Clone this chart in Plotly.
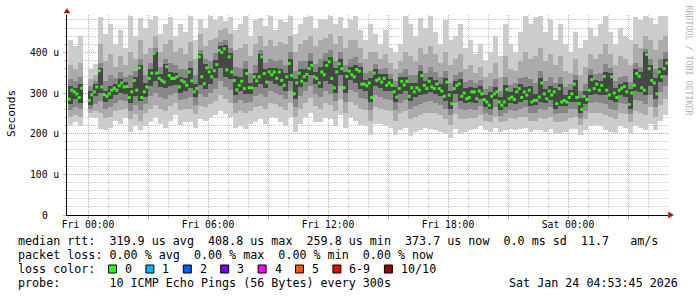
import plotly.graph_objects as go
from datetime import datetime, timedelta

# ---------------- data (values in microseconds) ----------------
band_start = datetime(2026, 1, 22, 23, 0)   # first smoke step start
band_step_min = 15                          # smoke resolution
median_step_min = 7.5                       # median resolution

median_us = [
    285, 307, 303, 298, 289, 312, None, None, 282, 296,
    303, 315, 355, 315, 296, 292, 298, 307, 312, 307,
    318, 325, 315, 316, 289, 303, 331, 307, 362, 289,
    303, 315, 336, 349, 398, 349, 336, 331, 327, 365,
    343, 336, 336, 340, 315, 331, 327, 319, 352, 330,
    303, 311, 389, 340, 323, 362, 352, 340, 355, 370,
    405, 400, 408.8, 357, 389, 352, 331, 308, 319, 329,
    311, 348, 313, 313, 340, 330, 340, 389, 348, 327,
    352, 345, 352, 336, 352, 331, 319, 340, 373, 343,
    298, 325, 349, 329, 340, 346, 360, 368, 340, 336,
    325, 352, 345, 368, 377, 336, 313, 352, 372, 360,
    313, 341, 354, 345, 340, 358, 354, 322, 322, 318,
    325, 289, 349, 331, 335, 327, 336, 319, 325, 319,
    303, 290, 311, 329, 320, 329, 292, 313, 303, 313,
    307, 343, 319, 311, 329, 315, 311, 322, 311, 305,
    292, 327, 295, 274, 311, 319, 323, 292, 300, 286,
    289, 303, 303, 286, 305, 298, 284, 278, 270, 292,
    298, 303, 278, 270, 278, 309, 286, 290, 284, 303,
    311, 289, 303, 295, 307, 278, 282, 282, 290, 325,
    298, 286, 305, 295, 303, 274, 311, 278, 282, 278,
    289, 298, 322, 289, 274, 259.8, 292, 284, 307, 333,
    311, 322, 307, 319, 341, 307, 295, 340, 300, 289,
    307, 312, 316, 303, 272, 300, 319, 348, 341, 313,
    307, 395, 360, 331, 325, 298, 352, 340, 360, 373.7,
]

smoke_max = [
    430, 415, 440, None, 360, 372, 488, 445, 470, 420,
    455, 410, 490, 440, 484, 460, 480, 490, 445, 470,
    486, 440, 470, 450, 490, 430, 482, 460, 490, 480,
    490, 478, 488, 455, 470, 490, 440, 480, 485, 465,
    490, 455, 480, 476, 490, 445, 470, 488, 490, 460,
    482, 480, 490, 470, 486, 460, 480, 490, 455, 430,
    470, 445, 420, 455, 410, 400, 420, 490, 470, 440,
    484, 460, 490, 450, 420, 480, 430, 440, 470, 410,
    430, 395, 420, 380, 400, 440, 390, 470, 420, 400,
    450, 490, 470, 486, 490, 450, 480, 430, 470, 420,
    400, 450, 410, 430, 460, 440, 470, 490, 450, 420,
    460, 440, 430, 488, 480, 490, 484, 470, 490, 490,
]
smoke_hi2 = [
    370, 360, 375, None, 335, 345, 420, 380, 395, 365,
    390, 370, 400, 385, 430, 395, 410, 440, 400, 420,
    430, 400, 410, 395, 425, 385, 445, 415, 430, 435,
    455, 460, 445, 405, 410, 420, 390, 420, 440, 415,
    430, 415, 425, 420, 440, 400, 420, 430, 440, 415,
    430, 435, 445, 420, 440, 410, 430, 430, 410, 385,
    400, 400, 385, 395, 375, 360, 378, 400, 390, 380,
    410, 395, 415, 395, 375, 400, 370, 385, 395, 360,
    370, 350, 365, 340, 350, 375, 340, 390, 360, 355,
    380, 400, 385, 390, 410, 380, 395, 370, 390, 355,
    350, 385, 345, 365, 395, 385, 395, 420, 395, 370,
    390, 385, 370, 420, 410, 440, 430, 405, 430, 440,
]
smoke_hi3 = [
    335, 330, 340, None, 318, 330, 375, 330, 345, 338,
    352, 340, 345, 355, 385, 345, 375, 410, 365, 385,
    375, 368, 360, 358, 380, 345, 405, 385, 380, 398,
    425, 430, 410, 365, 362, 378, 350, 370, 405, 375,
    385, 380, 382, 370, 400, 355, 378, 380, 398, 372,
    385, 398, 405, 380, 400, 370, 385, 388, 375, 350,
    355, 372, 360, 362, 348, 330, 350, 360, 345, 345,
    370, 350, 365, 352, 340, 355, 325, 345, 352, 328,
    332, 325, 332, 310, 318, 335, 305, 340, 320, 325,
    338, 340, 335, 325, 355, 330, 340, 325, 340, 315,
    322, 345, 305, 322, 360, 348, 350, 372, 362, 330,
    340, 342, 328, 375, 365, 408, 385, 360, 385, 400,
]
smoke_hi4 = [
    318, 312, 322, None, 305, 322, 362, 306, 318, 322,
    335, 328, 312, 340, 370, 325, 358, 402, 348, 372,
    352, 350, 340, 338, 362, 322, 395, 372, 360, 382,
    415, 418, 398, 342, 340, 358, 325, 350, 396, 358,
    362, 362, 360, 350, 385, 335, 360, 358, 380, 352,
    364, 380, 388, 362, 385, 352, 365, 370, 365, 332,
    336, 360, 346, 346, 335, 315, 340, 340, 325, 325,
    355, 330, 340, 332, 322, 338, 305, 330, 335, 312,
    315, 312, 318, 295, 302, 315, 290, 320, 302, 312,
    322, 315, 318, 298, 338, 310, 318, 312, 322, 295,
    308, 332, 288, 305, 345, 332, 330, 352, 350, 312,
    322, 326, 310, 358, 352, 402, 370, 338, 362, 385,
]
smoke_lo4 = [
    272, 285, 275, None, 270, 292, 300, 278, 285, 295,
    300, 298, 276, 292, 280, 290, 318, 330, 315, 312,
    318, 320, 300, 305, 312, 290, 320, 310, 322, 338,
    362, 340, 335, 295, 305, 298, 298, 315, 322, 312,
    330, 322, 318, 305, 330, 285, 315, 328, 345, 322,
    312, 330, 322, 300, 345, 300, 332, 325, 310, 305,
    278, 318, 312, 305, 305, 278, 298, 305, 280, 290,
    295, 298, 302, 298, 292, 280, 262, 298, 280, 275,
    278, 275, 286, 266, 260, 285, 258, 266, 275, 272,
    278, 284, 268, 270, 278, 275, 284, 262, 268, 268,
    278, 278, 250, 272, 295, 298, 295, 295, 282, 278,
    295, 290, 262, 305, 302, 295, 318, 285, 328, 345,
]
smoke_lo3 = [
    258, 265, 262, None, 260, 272, 280, 262, 265, 275,
    282, 280, 255, 270, 258, 272, 292, 300, 290, 285,
    295, 300, 282, 286, 290, 270, 298, 290, 300, 310,
    330, 315, 308, 275, 282, 276, 278, 292, 298, 290,
    305, 300, 295, 285, 305, 265, 292, 305, 318, 298,
    290, 305, 298, 280, 318, 278, 308, 302, 288, 285,
    258, 295, 290, 285, 282, 258, 276, 282, 260, 268,
    272, 278, 280, 276, 270, 260, 245, 275, 260, 258,
    260, 258, 268, 250, 245, 265, 244, 250, 258, 255,
    260, 265, 252, 252, 260, 258, 265, 248, 250, 252,
    260, 262, 238, 255, 275, 278, 275, 272, 262, 258,
    275, 272, 248, 282, 280, 272, 295, 265, 302, 318,
]
smoke_lo2 = [
    242, 245, 240, None, 250, 255, 250, 238, 240, 255,
    258, 262, 235, 248, 232, 250, 262, 270, 262, 255,
    268, 275, 258, 262, 262, 248, 268, 265, 272, 280,
    295, 285, 275, 250, 255, 250, 255, 265, 268, 262,
    275, 272, 265, 258, 275, 240, 262, 275, 288, 268,
    262, 275, 270, 255, 285, 252, 278, 270, 260, 258,
    232, 265, 262, 258, 255, 232, 250, 255, 235, 240,
    245, 250, 252, 250, 245, 235, 222, 248, 235, 235,
    238, 238, 245, 232, 228, 242, 228, 232, 238, 235,
    240, 242, 232, 232, 238, 236, 242, 228, 230, 232,
    238, 240, 222, 235, 250, 252, 250, 245, 240, 236,
    250, 248, 228, 255, 252, 245, 265, 240, 270, 285,
]
smoke_min = [
    222, 228, 218, None, 240, 238, 212, 208, 215, 232,
    225, 238, 205, 218, 210, 220, 228, 240, 225, 215,
    232, 245, 222, 230, 228, 215, 235, 232, 240, 245,
    255, 248, 240, 215, 218, 212, 225, 228, 235, 225,
    240, 238, 228, 220, 240, 205, 225, 240, 250, 230,
    228, 238, 235, 218, 245, 215, 240, 232, 222, 220,
    198, 225, 225, 220, 215, 198, 210, 215, 195, 205,
    210, 215, 212, 208, 205, 200, 190, 212, 200, 205,
    210, 212, 218, 210, 205, 215, 205, 208, 212, 210,
    212, 215, 205, 208, 210, 205, 212, 200, 202, 205,
    212, 212, 198, 210, 218, 222, 218, 210, 205, 202,
    218, 215, 200, 220, 215, 210, 225, 210, 232, 245,
]

y_tick_vals = [0, 100, 200, 300, 400]
y_tick_text = ["0", "100 u", "200 u", "300 u", "400 u"]
x_tick_labels = ["Fri 00:00", "", "Fri 06:00", "", "Fri 12:00", "",
                 "Fri 18:00", "", "Sat 00:00", ""]
x_tick_origin = datetime(2026, 1, 23, 0, 0)

loss_labels = ["0", "1", "2", "3", "4", "5", "6-9", "10/10"]
loss_colors = ["#26ff00", "#00b8ff", "#0059ff", "#7e00ff", "#ff00ff",
               "#ff5500", "#ff0000", "#a10000"]

legend_rtt = "median rtt:  319.9 us avg  408.8 us max  259.8 us min  373.7 us now  0.0 ms sd  11.7   am/s"
legend_loss = "packet loss: 0.00 % avg  0.00 % max  0.00 % min  0.00 % now"
legend_probe = "probe:       10 ICMP Echo Pings (56 Bytes) every 300s"
legend_date = "Sat Jan 24 04:53:45 2026"

# ---------------- layout helpers (pixel -> paper) ----------------
W, H = 697, 297
L, R, T, B = 67, 668, 15, 215


def px(x):
    return (x - L) / (R - L)


def py(y):
    return (B - y) / (B - T)


def nb(s):
    return s.replace(" ", "\u00a0")


MONO = "DejaVu Sans Mono"

band_x = [band_start + timedelta(minutes=band_step_min * (k + 0.5)) for k in range(len(smoke_max))]
band_w = band_step_min * 60 * 1000
med_x = [band_start + timedelta(minutes=median_step_min * (i + 0.5)) for i in range(len(median_us))]

fig = go.Figure()

bands = [
    (smoke_min, smoke_max, "#cccccc"),
    (smoke_lo2, smoke_hi2, "#ababab"),
    (smoke_lo3, smoke_hi3, "#878787"),
    (smoke_lo4, smoke_hi4, "#474747"),
]
for lo, hi, col in bands:
    base = [a if (a is not None and b is not None) else None for a, b in zip(lo, hi)]
    height = [(b - a) if (a is not None and b is not None) else None for a, b in zip(lo, hi)]
    fig.add_trace(go.Bar(
        x=band_x, y=height, base=base, width=[band_w] * len(band_x),
        marker=dict(color=col, line=dict(width=0)), opacity=1,
        hoverinfo="skip", showlegend=False,
    ))

fig.add_trace(go.Scatter(
    x=med_x, y=median_us, mode="markers",
    marker=dict(symbol="square", size=3, color=loss_colors[0], line=dict(width=0)),
    hoverinfo="skip", showlegend=False,
))

major_grid = "#e79a9a"
minor_grid = "#c2c2c2"

fig.update_layout(
    width=W, height=H,
    margin=dict(l=L, r=W - R, t=T, b=H - B, pad=0),
    paper_bgcolor="white", plot_bgcolor="white",
    barmode="overlay", bargap=0,
    showlegend=False,
    font=dict(family=MONO, color="black"),
    xaxis=dict(
        type="date",
        range=[band_start - timedelta(minutes=3), x_tick_origin + timedelta(hours=29)],
        tickmode="array",
        tickvals=[x_tick_origin + timedelta(hours=3 * j) for j in range(len(x_tick_labels))],
        ticktext=x_tick_labels,
        tickfont=dict(family=MONO, size=9.7, color="black"),
        ticklabelstandoff=-3,
        showgrid=True, gridcolor=major_grid, griddash="1px,1px", gridwidth=1,
        ticks="outside", ticklen=3, tickcolor=major_grid, tickwidth=1,
        minor=dict(dtick=3600000, tick0=x_tick_origin, showgrid=True,
                   gridcolor=minor_grid, griddash="1px,1px", gridwidth=1,
                   ticks="outside", ticklen=2, tickcolor=minor_grid),
        showline=True, linecolor="black", linewidth=1,
        zeroline=False, layer="above traces", fixedrange=True,
    ),
    yaxis=dict(
        range=[0, 492],
        tickmode="array", tickvals=y_tick_vals, showticklabels=False,
        showgrid=True, gridcolor=major_grid, griddash="1px,1px", gridwidth=1,
        ticks="outside", ticklen=3, tickcolor=major_grid, tickwidth=1,
        minor=dict(dtick=20, tick0=0, showgrid=True,
                   gridcolor=minor_grid, griddash="1px,1px", gridwidth=1,
                   ticks="outside", ticklen=2, tickcolor=minor_grid),
        showline=True, linecolor="black", linewidth=1,
        zeroline=False, layer="above traces", fixedrange=True,
    ),
)

ann = []
# y tick labels (centred like rrdtool)
for v, t in zip(y_tick_vals, y_tick_text):
    ann.append(dict(x=px(44.5), y=v, xref="paper", yref="y", text=nb(t),
                    showarrow=False, xanchor="center", yanchor="middle",
                    font=dict(family=MONO, size=9.7, color="black")))
# axis title
ann.append(dict(x=px(11), y=py(114), xref="paper", yref="paper", text="Seconds",
                showarrow=False, textangle=-90, xanchor="center", yanchor="middle",
                font=dict(family=MONO, size=11.2, color="black")))
# watermark
ann.append(dict(x=px(688.5), y=py(60), xref="paper", yref="paper",
                text=nb("RRDTOOL / TOBI OETIKER"), showarrow=False, textangle=90,
                xanchor="center", yanchor="middle",
                font=dict(family=MONO, size=8.3, color="#b4b4b4")))
# legend lines
leg_font = dict(family=MONO, size=11.7, color="black")
for txt, ypix in [(legend_rtt, 241), (legend_loss, 255), ("loss color:", 269), (legend_probe, 283)]:
    ann.append(dict(x=px(16), y=py(ypix), xref="paper", yref="paper", text=nb(txt),
                    showarrow=False, xanchor="left", yanchor="middle", font=leg_font))
ann.append(dict(x=px(680), y=py(283), xref="paper", yref="paper", text=nb(legend_date),
                showarrow=False, xanchor="right", yanchor="middle", font=leg_font))

shapes = []
bx = 108.5
for lab, col in zip(loss_labels, loss_colors):
    shapes.append(dict(type="rect", xref="paper", yref="paper",
                       x0=px(bx), x1=px(bx + 8), y0=py(273), y1=py(265),
                       fillcolor=col, line=dict(color="black", width=1)))
    ann.append(dict(x=px(bx + 14.5), y=py(269), xref="paper", yref="paper", text=nb(lab),
                    showarrow=False, xanchor="left", yanchor="middle", font=leg_font))
    bx += 30.35 + 7.05 * len(lab)

# axis arrows
arrow_col = "#a01818"
shapes.append(dict(type="path", xref="paper", yref="paper",
                   path=f"M {px(64)},{py(13)} L {px(70)},{py(13)} L {px(67)},{py(8.5)} Z",
                   fillcolor=arrow_col, line=dict(color=arrow_col, width=0.5)))
shapes.append(dict(type="path", xref="paper", yref="paper",
                   path=f"M {px(668.5)},{py(212)} L {px(668.5)},{py(218)} L {px(673.5)},{py(215)} Z",
                   fillcolor=arrow_col, line=dict(color=arrow_col, width=0.5)))

fig.update_layout(annotations=ann, shapes=shapes)

fig.write_html("out.html")
